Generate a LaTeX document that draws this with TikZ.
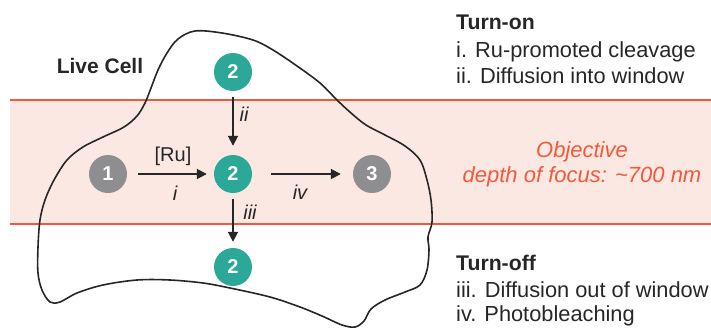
\documentclass[tikz,border=0pt]{standalone}
\usepackage{fontspec}
\setmainfont{Liberation Sans}
\usetikzlibrary{arrows.meta}
\definecolor{teal2}{HTML}{2BA898}
\definecolor{grayc}{HTML}{8E8E90}
\definecolor{bandfill}{HTML}{FCE8E2}
\definecolor{bandline}{HTML}{F05A3C}
\definecolor{txt}{HTML}{262626}
\tikzset{
  mol/.style={circle, minimum size=38pt, inner sep=0pt, text=white,
    font=\fontsize{20}{20}\selectfont\bfseries},
  active/.style={mol, fill=teal2},
  inert/.style={mol, fill=grayc},
  rxn/.style={-{Triangle[width=10pt,length=10pt]}, line width=1.8pt, draw=txt},
  lbl/.style={text=txt, font=\fontsize{20}{24}\selectfont, inner sep=0pt},
  ilbl/.style={lbl, font=\fontsize{20}{24}\selectfont\itshape},
  side/.style={text=txt, font=\fontsize{21.8}{26}\selectfont, anchor=base west, inner sep=0pt},
  head/.style={side, font=\fontsize{21.2}{26}\selectfont\bfseries},
  focus/.style={text=bandline, font=\fontsize{22}{26}\selectfont\itshape, anchor=base, inner sep=0pt}
}
\begin{document}
\begin{tikzpicture}[x=1pt,y=-1pt]
\useasboundingbox (0,0) rectangle (711,329);
% focal window
\fill[bandfill] (10,100) rectangle (711,224);
\draw[bandline, line width=1.8pt] (10,100) -- (711,100) (10,224) -- (711,224);
% cell outline
\draw[line width=1.6pt, black!85] plot[smooth cycle, tension=0.55] coordinates {
 (42,290) (50,302) (60,302) (77,293) (103,285) (137,280) (170,280) (203,283)
 (230,288) (270,297) (300,307) (322,316) (342,325) (355,327) (364,321)
 (371,309) (385,300) (405,292) (420,285) (427,270) (429,250) (428,237)
 (432,222) (431,200) (427,180) (420,160) (405,146) (385,135) (366,125)
 (351,113) (337,100) (320,83) (297,66) (273,50) (253,40) (222,33) (195,31)
 (178,39) (167,53) (158,70) (151,88) (145,103) (137,116) (124,127) (103,137)
 (83,147) (67,160) (54,180) (45,200) (40,220) (38,247) (38,273)};
\node[font=\fontsize{21}{25}\selectfont\bfseries, text=txt, anchor=base, inner sep=0pt] (cell) at (100,73) {Live Cell};
% molecules
\node[inert]  (n1) at (108,174) {1};
\node[active] (n2) at (233,174) {2};
\node[active] (n2t) at (233,72) {2};
\node[active] (n2b) at (233,267) {2};
\node[inert]  (n3) at (372,174) {3};
% reactions
\draw[rxn, shorten <=11pt, shorten >=7pt] (n1) -- (n2);
\draw[rxn, shorten <=19pt, shorten >=12pt] (n2) -- (n3);
\draw[rxn, shorten <=6pt, shorten >=9pt] (n2t) -- (n2);
\draw[rxn, shorten <=6pt, shorten >=6pt] (n2) -- (n2b);
\node[lbl] (ru) at (173,156) {[Ru]};
\node[ilbl] (li) at (175,193) {i};
\node[ilbl] (lii) at (244,114) {ii};
\node[ilbl] (liii) at (250,212) {iii};
\node[ilbl] (liv) at (300,192) {iv};
% side text
\node[head] (on) at (456,30) {Turn-on};
\node[side] (s1) at (456,57) {i. Ru-promoted cleavage};
\node[side] (s2) at (456,83) {ii. Diffusion into window};
\node[focus] (f1) at (582,157) {Objective};
\node[focus] (f2) at (582,182) {depth of focus: \textasciitilde 700 nm};
\node[head] (off) at (456,270) {Turn-off};
\node[side] (s3) at (456,297) {iii. Diffusion out of window};
\node[side] (s4) at (456,321) {iv. Photobleaching};
\end{tikzpicture}
\end{document}
